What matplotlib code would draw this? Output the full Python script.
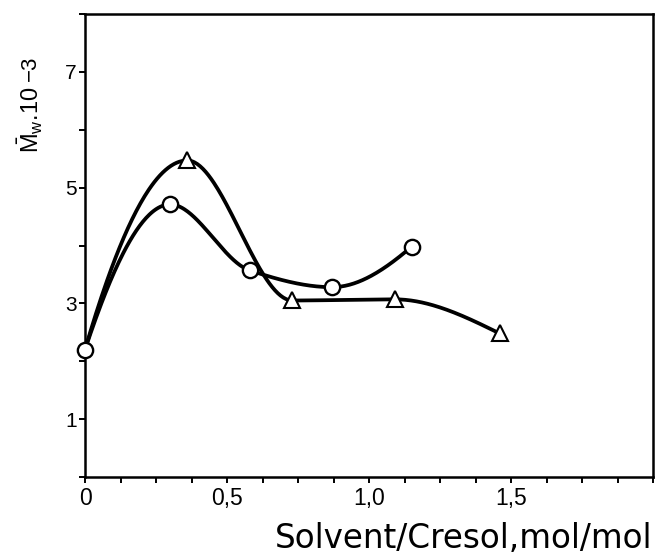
import numpy as np
import matplotlib
matplotlib.use("Agg")
import matplotlib.pyplot as plt
from matplotlib.ticker import FixedLocator, MultipleLocator

plt.rcParams["font.family"] = ["Liberation Sans", "DejaVu Sans"]
plt.rcParams["mathtext.fontset"] = "custom"
plt.rcParams["mathtext.rm"] = "Liberation Sans"
plt.rcParams["mathtext.it"] = "Liberation Sans:italic"

# --- values ---
tri_x = [0.0, 0.36, 0.73, 1.09, 1.46]
tri_y = [2.2, 5.47, 3.05, 3.07, 2.48]

circ_x = [0.0, 0.30, 0.58, 0.87, 1.15]
circ_y = [2.2, 4.71, 3.57, 3.28, 3.98]

x_ticks = [0.0, 0.5, 1.0, 1.5]
x_tick_labels = ["0", "0,5", "1,0", "1,5"]
y_ticks = [1, 3, 5, 7]


def smooth(x, y, n=300):
    """Monotone cubic (PCHIP) line through the points, for drawing only."""
    x = np.asarray(x, float)
    y = np.asarray(y, float)
    h = np.diff(x)
    d = np.diff(y) / h
    m = np.zeros_like(y)
    for k in range(1, len(x) - 1):
        if d[k - 1] * d[k] > 0:
            w1 = 2 * h[k] + h[k - 1]
            w2 = h[k] + 2 * h[k - 1]
            m[k] = (w1 + w2) / (w1 / d[k - 1] + w2 / d[k])

    def end(h0, h1, d0, d1):
        s = ((2 * h0 + h1) * d0 - h0 * d1) / (h0 + h1)
        if np.sign(s) != np.sign(d0):
            s = 0.0
        elif np.sign(d0) != np.sign(d1) and abs(s) > abs(3 * d0):
            s = 3 * d0
        return s

    m[0] = end(h[0], h[1], d[0], d[1])
    m[-1] = end(h[-1], h[-2], d[-1], d[-2])

    xs = np.linspace(x[0], x[-1], n)
    i = np.clip(np.searchsorted(x, xs) - 1, 0, len(h) - 1)
    t = (xs - x[i]) / h[i]
    h00 = 2 * t**3 - 3 * t**2 + 1
    h10 = t**3 - 2 * t**2 + t
    h01 = -2 * t**3 + 3 * t**2
    h11 = t**3 - t**2
    ys = h00 * y[i] + h10 * h[i] * m[i] + h01 * y[i + 1] + h11 * h[i] * m[i + 1]
    return xs, ys


W, H = 655, 556
fig = plt.figure(figsize=(W / 100, H / 100), dpi=100)
ax = fig.add_axes([85 / W, 79 / H, 568 / W, 463 / H])

# triangles
ax.plot(*smooth(tri_x, tri_y), color="black", lw=2.7, zorder=2, clip_on=False)
ax.plot(tri_x[1:], tri_y[1:], ls="none", marker="^", ms=12, mfc="white",
        mec="black", mew=1.5, zorder=3, clip_on=False)

# circles
ax.plot(*smooth(circ_x, circ_y), color="black", lw=2.7, zorder=2, clip_on=False)
ax.plot(circ_x, circ_y, ls="none", marker="o", ms=11, mfc="white",
        mec="black", mew=1.7, zorder=4, clip_on=False)

ax.set_xlim(0, 2.0)
ax.set_ylim(0, 8)

ax.xaxis.set_major_locator(FixedLocator(x_ticks))
ax.set_xticklabels(x_tick_labels)
ax.xaxis.set_minor_locator(MultipleLocator(0.125))
ax.yaxis.set_major_locator(FixedLocator(y_ticks))
ax.yaxis.set_minor_locator(MultipleLocator(1))

ax.tick_params(which="both", direction="out", length=4, width=1.4, color="black")
ax.tick_params(axis="x", which="major", labelsize=16.5, pad=3)
ax.tick_params(axis="y", which="major", labelsize=15, pad=2)

for sp in ax.spines.values():
    sp.set_linewidth(1.8)

fig.text(652 / W, 1 - 548 / H, "Solvent/Cresol,mol/mol", family="DejaVu Sans",
         ha="right", va="baseline", fontsize=23.5)

# y label: "M_w.10" then a slightly raised "-3", reading upwards
base_x, start_y = 39, 153
t1 = fig.text(base_x / W, 1 - start_y / H, r"$\bar{\mathrm{M}}_{\mathrm{w}}$.10",
              rotation=90, rotation_mode="anchor", ha="left", va="baseline",
              fontsize=17)
fig.canvas.draw()
bb = t1.get_window_extent()
fig.text((base_x - 3) / W, (bb.y1 + 6) / H, "\u22123",
         rotation=90, rotation_mode="anchor", ha="left", va="baseline",
         fontsize=16)

fig.savefig("out.png", dpi=100)
